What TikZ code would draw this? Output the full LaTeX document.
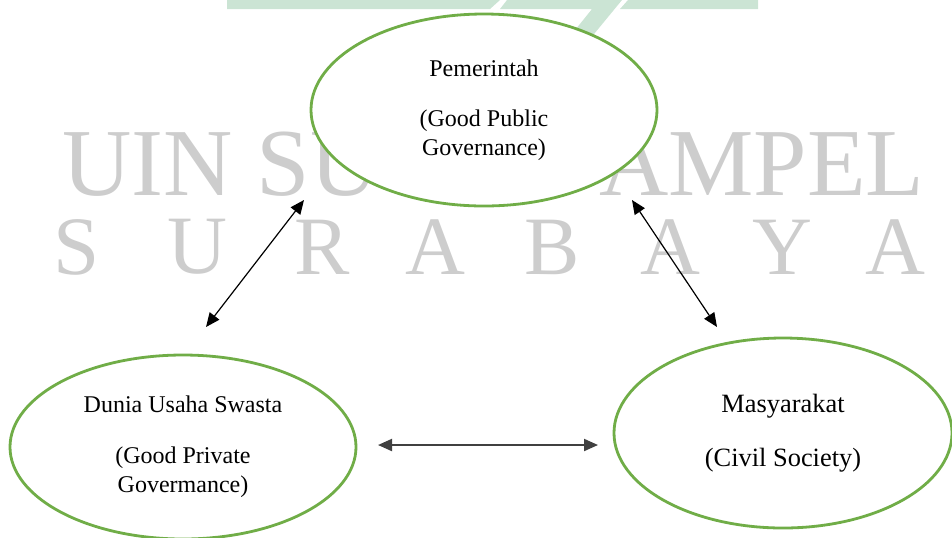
\documentclass[tikz,border=0pt]{standalone}
\usepackage{fontspec}
\setmainfont{Liberation Serif}
\usepackage{xcolor}
\usepackage{tikz}
\usetikzlibrary{
  arrows.meta,
  positioning,
  calc,
  shapes.geometric
}
\definecolor{rimcolor}{HTML}{70AD47}
\definecolor{logocolor}{HTML}{CBE4D4}
\definecolor{wmcolor}{HTML}{CDCDCD}

\begin{document}
\begin{tikzpicture}[
  x=0.5pt, y=-0.5pt,
  actor/.style={draw=rimcolor, line width=1.4pt, fill=white, ellipse,
                inner sep=0pt, align=center,
                font=\fontsize{12pt}{14.5pt}\selectfont},
  arrow/.style={{Triangle[length=7pt,width=6pt]}-{Triangle[length=7pt,width=6pt]},
                line width=0.6pt},
  wmark/.style={text=wmcolor, inner sep=0pt},
  bigmark/.style={wmark, font=\fontsize{48pt}{48pt}\selectfont},
]
  \useasboundingbox (0,0) rectangle (952,537);

  % watermark
  \fill[logocolor] (227,0) -- (500,0) -- (490,9) -- (227,9) -- cycle;
  \fill[logocolor] (507,0) -- (622,0) -- (585,45) -- (563,45) -- (592,9) -- (500,9) -- cycle;
  \fill[logocolor] (628,0) -- (758,0) -- (758,9) -- (620,9) -- cycle;
  \node[bigmark, anchor=west] (wm1) at (62,164) {UIN SU};
  \node[bigmark, anchor=east] (wm2) at (925,164) {AMPEL};
  \foreach \x/\c [count=\i] in {77/S, 197/U, 322/R, 435/A, 552/B, 670/A, 782/Y, 895/A} {
    \node[wmark, font=\fontsize{41.5pt}{41.5pt}\selectfont] (wl\i) at (\x,247) {\c};
  }

  % actors
  \node[actor, minimum width=173pt, minimum height=96pt] (gov) at (484,110)
    {Pemerintah\\[10.5pt](Good Public\\Governance)};
  \node[actor, minimum width=173pt, minimum height=92pt] (swasta) at (183,447)
    {Dunia Usaha Swasta\\[11pt](Good Private\\Govermance)};
  \node[actor, minimum width=169pt, minimum height=95pt,
        font=\fontsize{13.2pt}{16pt}\selectfont] (mas) at (783,433)
    {Masyarakat\\[11pt](Civil Society)};

  % arrow ends
  \coordinate (gov-l) at ([shift={(-180,90)}]gov.center);
  \coordinate (gov-r) at ([shift={(148,90)}]gov.center);
  \coordinate (swasta-t) at ([shift={(23,-120)}]swasta.center);
  \coordinate (swasta-r) at ([shift={(195,-2)}]swasta.center);
  \coordinate (mas-t) at ([shift={(-66,-106)}]mas.center);
  \coordinate (mas-l) at ([shift={(-185,12)}]mas.center);

  \draw[arrow] (swasta-t) -- (gov-l);
  \draw[arrow] (gov-r) -- (mas-t);
  \draw[arrow, line width=1pt, black!75] (swasta-r) -- (mas-l);

\end{tikzpicture}
\end{document}
